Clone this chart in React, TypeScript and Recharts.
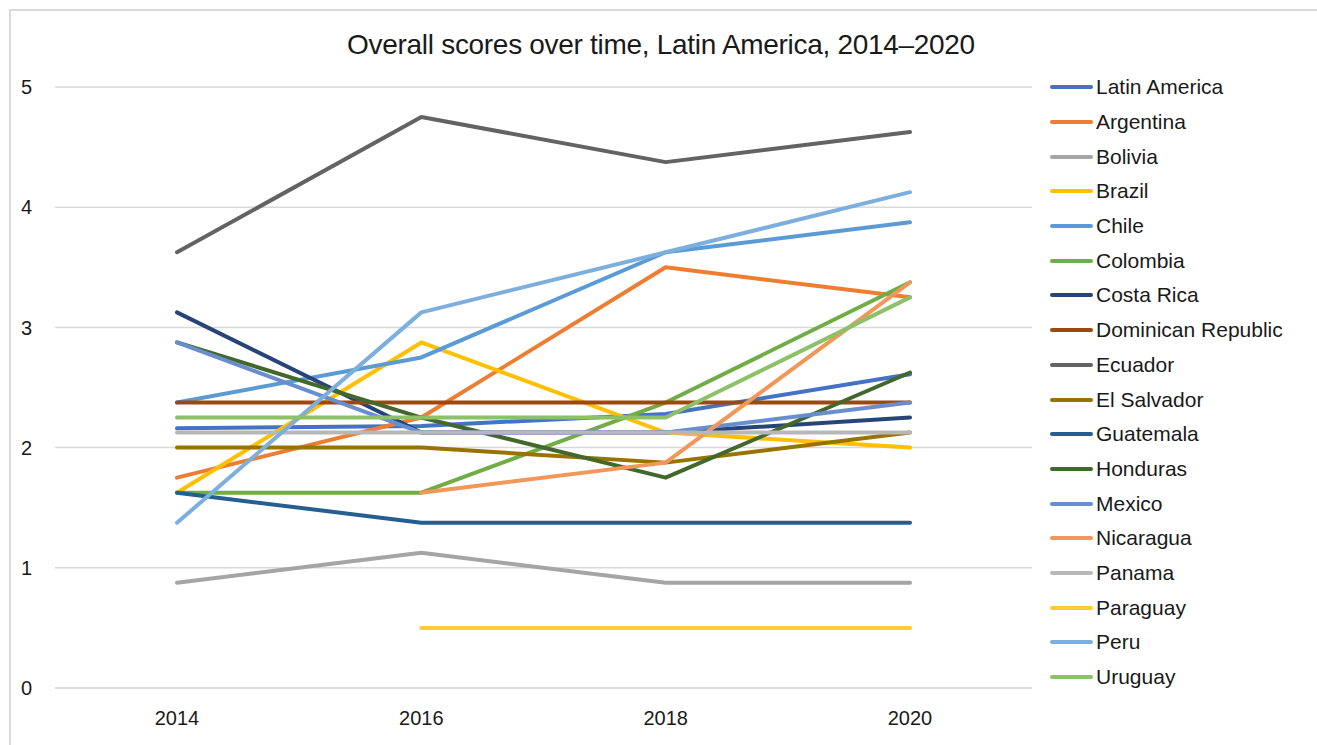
import { LineChart, Line, XAxis, YAxis, CartesianGrid } from "recharts";

const years = ["2014", "2016", "2018", "2020"];

const latinAmerica = [2.16, 2.18, 2.28, 2.61];
const argentina = [1.75, 2.25, 3.5, 3.25];
const bolivia = [0.875, 1.125, 0.875, 0.875];
const brazil = [1.625, 2.875, 2.125, 2.0];
const chile = [2.375, 2.75, 3.625, 3.875];
const colombia = [1.625, 1.625, 2.375, 3.375];
const costaRica = [3.125, 2.125, 2.125, 2.25];
const dominicanRepublic = [2.375, 2.375, 2.375, 2.375];
const ecuador = [3.625, 4.75, 4.375, 4.625];
const elSalvador = [2.0, 2.0, 1.875, 2.125];
const guatemala = [1.625, 1.375, 1.375, 1.375];
const honduras = [2.875, 2.25, 1.75, 2.625];
const mexico = [2.875, 2.125, 2.125, 2.375];
const nicaragua = [null, 1.625, 1.875, 3.375];
const panama = [2.125, 2.125, 2.125, 2.125];
const paraguay = [null, 0.5, 0.5, 0.5];
const peru = [1.375, 3.125, 3.625, 4.125];
const uruguay = [2.25, 2.25, 2.25, 3.25];

const yTicks = [0, 1, 2, 3, 4, 5];

const series: { name: string; values: (number | null)[]; color: string }[] = [
  { name: "Latin America", values: latinAmerica, color: "#4472C4" },
  { name: "Argentina", values: argentina, color: "#ED7D31" },
  { name: "Bolivia", values: bolivia, color: "#A5A5A5" },
  { name: "Brazil", values: brazil, color: "#FFC000" },
  { name: "Chile", values: chile, color: "#5B9BD5" },
  { name: "Colombia", values: colombia, color: "#70AD47" },
  { name: "Costa Rica", values: costaRica, color: "#264478" },
  { name: "Dominican Republic", values: dominicanRepublic, color: "#9E480E" },
  { name: "Ecuador", values: ecuador, color: "#636363" },
  { name: "El Salvador", values: elSalvador, color: "#997300" },
  { name: "Guatemala", values: guatemala, color: "#255E91" },
  { name: "Honduras", values: honduras, color: "#43682B" },
  { name: "Mexico", values: mexico, color: "#698ED0" },
  { name: "Nicaragua", values: nicaragua, color: "#F1975A" },
  { name: "Panama", values: panama, color: "#B7B7B7" },
  { name: "Paraguay", values: paraguay, color: "#FFCD33" },
  { name: "Peru", values: peru, color: "#7CAFDD" },
  { name: "Uruguay", values: uruguay, color: "#8CC168" },
];

const data = years.map((year, i) => {
  const row: Record<string, string | number | null> = { year };
  series.forEach((s) => {
    row[s.name] = s.values[i];
  });
  return row;
});

const FONT = "'Liberation Sans', Arial, sans-serif";
const TEXT = "#1a1a1a";

// legend kept outside the chart so it doesn't eat into the plot area
function SeriesLegend() {
  return (
    <div
      style={{
        position: "absolute",
        left: 1050,
        top: 70,
        fontFamily: FONT,
      }}
    >
      {series.map((s) => (
        <div
          key={s.name}
          style={{ display: "flex", alignItems: "center", height: 34.7 }}
        >
          <div
            style={{
              width: 43,
              height: 4,
              borderRadius: 2,
              background: s.color,
              marginRight: 3,
            }}
          />
          <span style={{ fontSize: 21, color: TEXT, whiteSpace: "nowrap" }}>
            {s.name}
          </span>
        </div>
      ))}
    </div>
  );
}

export default function App() {
  return (
    <div
      style={{
        position: "relative",
        width: 1317,
        height: 745,
        overflow: "hidden",
        background: "#fff",
      }}
    >
      <style>{`body{margin:0}`}</style>
      <div
        style={{
          position: "absolute",
          left: 9,
          top: 9,
          width: 1400,
          height: 800,
          border: "2px solid #D9D9D9",
        }}
      />
      <div
        style={{
          position: "absolute",
          left: 0,
          top: 29,
          width: 1322,
          textAlign: "center",
          fontFamily: FONT,
          fontSize: 28,
          color: TEXT,
          letterSpacing: -0.3,
        }}
      >
        Overall scores over time, Latin America, 2014–2020
      </div>
      <div style={{ position: "absolute", left: 0, top: 0 }}>
        <LineChart
          width={1317}
          height={745}
          data={data}
          margin={{ top: 87, right: 285, bottom: 0, left: 0 }}
        >
          <CartesianGrid vertical={false} stroke="#D9D9D9" strokeWidth={1.5} />
          <XAxis
            dataKey="year"
            padding={{ left: 122, right: 122 }}
            axisLine={{ stroke: "#D9D9D9", strokeWidth: 1.5 }}
            tickLine={false}
            tickMargin={17}
            height={57}
            tick={{ fontSize: 20, fill: TEXT, fontFamily: FONT }}
          />
          <YAxis
            domain={[0, 5]}
            ticks={yTicks}
            width={55}
            axisLine={false}
            tickLine={false}
            tickMargin={17}
            tick={{ fontSize: 20, fill: TEXT, fontFamily: FONT }}
          />
          {series.map((s) => (
            <Line
              key={s.name}
              dataKey={s.name}
              name={s.name}
              type="linear"
              stroke={s.color}
              strokeWidth={4}
              strokeLinecap="round"
              strokeLinejoin="round"
              dot={false}
              activeDot={false}
              isAnimationActive={false}
            />
          ))}
        </LineChart>
      </div>
      <SeriesLegend />
    </div>
  );
}
